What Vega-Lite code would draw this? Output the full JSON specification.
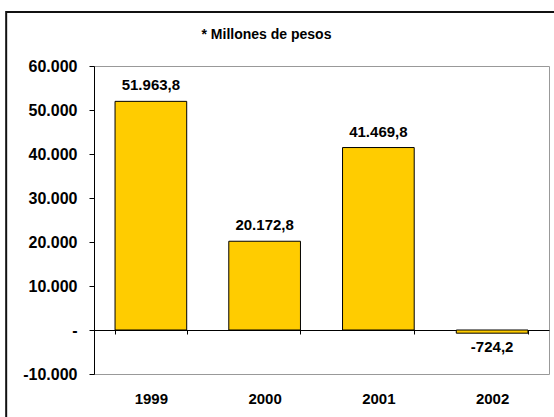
{
  "$schema": "https://vega.github.io/schema/vega-lite/v6.json",
  "width": 455,
  "height": 308,
  "autosize": "none",
  "padding": {"left": 94, "top": 66, "right": 5, "bottom": 43},
  "background": "white",
  "title": {"text": "* Millones de pesos", "font": "Liberation Sans", "fontSize": 14, "fontWeight": "bold", "color": "black", "anchor": "middle", "frame": "group", "dx": -55, "baseline": "alphabetic", "offset": -42},
  "data": {"values": [
    {"year": "1999", "value": 51963.8},
    {"year": "2000", "value": 20172.8},
    {"year": "2001", "value": 41469.8},
    {"year": "2002", "value": -724.2}
  ]},
  "layer": [
    {
      "data": {"values": [{}]},
      "mark": {"type": "rect", "fill": "white", "fillOpacity": 0, "stroke": "#111111", "strokeWidth": 2},
      "encoding": {
        "x": {"datum": -0.193, "type": "quantitative", "scale": {"domain": [0, 1], "nice": false, "zero": false}, "axis": null},
        "x2": {"datum": 1.015},
        "y": {"datum": 72300, "type": "quantitative", "scale": {"domain": [-10000, 60000], "nice": false}},
        "y2": {"datum": -25000}
      }
    },
    {
      "encoding": {
        "x": {"field": "year", "type": "nominal", "sort": null,
          "scale": {"paddingInner": 0.37, "paddingOuter": 0.185},
          "axis": {"title": null, "orient": "bottom", "offset": -44, "labelAngle": 0, "domainColor": "black", "domainWidth": 1, "tickColor": "black", "tickSize": 4, "tickBand": "extent", "labelPadding": 57, "labelFont": "Liberation Sans", "labelFontSize": 15, "labelFontWeight": "bold", "labelColor": "black"}},
        "y": {"field": "value", "type": "quantitative",
          "scale": {"domain": [-10000, 60000], "nice": false},
          "axis": {"title": null, "values": [-10000, 0, 10000, 20000, 30000, 40000, 50000, 60000], "format": ",.0f", "labelExpr": "datum.value == 0 ? '-' : datum.label", "grid": false, "domainColor": "black", "tickColor": "black", "tickSize": 5, "labelPadding": 12, "labelFont": "Liberation Sans", "labelFontSize": 16, "labelFontWeight": "bold", "labelColor": "black"}}
      },
      "layer": [
        {
          "mark": {"type": "bar", "fill": "#FFCC00", "stroke": "black", "strokeWidth": 1}
        },
        {
          "transform": [{"filter": "datum.value >= 0"}],
          "mark": {"type": "text", "baseline": "alphabetic", "dy": -11, "font": "Liberation Sans", "fontSize": 15, "fontWeight": "bold", "color": "black"},
          "encoding": {
            "text": {"field": "value", "type": "quantitative", "format": ",.1f"}
          }
        },
        {
          "transform": [{"filter": "datum.value < 0"}],
          "mark": {"type": "text", "baseline": "top", "dy": 7, "font": "Liberation Sans", "fontSize": 15, "fontWeight": "bold", "color": "black"},
          "encoding": {
            "text": {"field": "value", "type": "quantitative", "format": ",.1f"}
          }
        }
      ]
    }
  ],
  "resolve": {"scale": {"x": "independent"}, "axis": {"x": "independent"}},
  "config": {
    "view": {"stroke": "#999999", "strokeWidth": 1},
    "locale": {"number": {"decimal": ",", "thousands": ".", "grouping": [3], "currency": ["$", ""], "minus": "-"}}
  }
}
